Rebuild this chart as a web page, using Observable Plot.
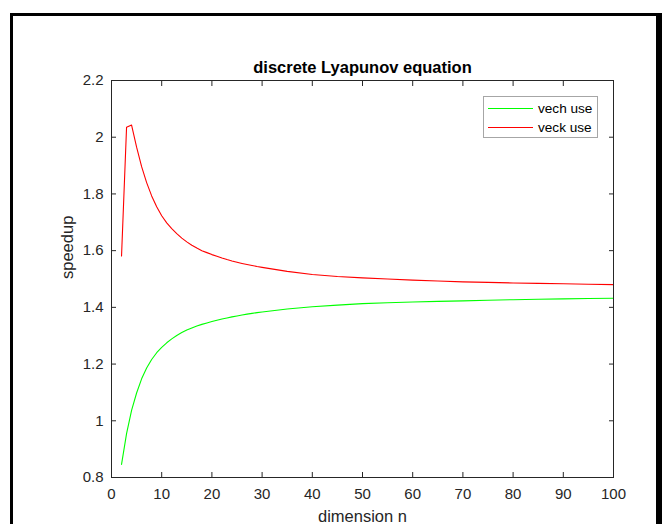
<!DOCTYPE html>
<html>
<head>
<meta charset="utf-8">
<script src="https://cdn.jsdelivr.net/npm/d3@7"></script>
<script src="https://cdn.jsdelivr.net/npm/@observablehq/plot@0.6"></script>
<style>
  html, body { margin: 0; padding: 0; background: #fff; }
  #wrap { position: relative; width: 662px; height: 524px; overflow: hidden; font-family: "Liberation Sans", Arial, sans-serif; }
  #wrap svg { position: absolute; left: 0; top: 0; }
  #border { position: absolute; left: 10px; top: 13px; width: 643px; height: 600px; border: 3px solid #000; border-right-width: 6px; }
  #legend { position: absolute; left: 483px; top: 96px; width: 113px; height: 40px; border: 1px solid #a6a6a6; background: #fff; font-size: 13.6px; color: #000; }
  .row { position: absolute; left: 4px; height: 16px; display: flex; align-items: center; }
  .sw { display: inline-block; width: 45px; height: 1px; margin-right: 5px; }
</style>
</head>
<body>
<div id="wrap">
  <div id="border"></div>
</div>
<script>
// ---- data ----
const dims = [2, 3, 4, 5, 6, 7, 8, 9, 10, 11, 12, 13, 14, 15, 16, 17, 18, 19, 20,
              21, 22, 23, 24, 25, 26, 27, 28, 29, 30,
              35, 40, 45, 50, 55, 60, 65, 70, 75, 80, 85, 90, 95, 100];
const vechUse = [0.846, 0.955, 1.037, 1.098, 1.148, 1.186, 1.216, 1.240, 1.259, 1.275, 1.289, 1.301, 1.311, 1.320, 1.327, 1.334, 1.340, 1.345, 1.350,
                 1.3545, 1.3587, 1.3627, 1.3664, 1.3698, 1.3730, 1.3760, 1.3788, 1.3814, 1.3838,
                 1.394, 1.402, 1.408, 1.413, 1.416, 1.419, 1.421, 1.423, 1.425, 1.427, 1.4285, 1.430, 1.431, 1.432];
const veckUse = [1.581, 2.035, 2.043, 1.965, 1.896, 1.840, 1.793, 1.755, 1.723, 1.698, 1.678, 1.660, 1.644, 1.631, 1.619, 1.609, 1.600, 1.593, 1.586,
                 1.580, 1.574, 1.5685, 1.5635, 1.559, 1.5548, 1.551, 1.5475, 1.544, 1.541,
                 1.527, 1.516, 1.509, 1.504, 1.500, 1.496, 1.493, 1.490, 1.488, 1.486, 1.4845, 1.483, 1.4815, 1.480];
const seriesNames = ["vech use", "veck use"];
const seriesColors = ["#00ff00", "#ff0000"];
const xTicks = [0, 10, 20, 30, 40, 50, 60, 70, 80, 90, 100];
const yTicks = [0.8, 1, 1.2, 1.4, 1.6, 1.8, 2, 2.2];
const titleText = "discrete Lyapunov equation";
const xLabelText = "dimension n";
const yLabelText = "speedup";

const rows = [];
dims.forEach((n, i) => {
  rows.push({n, v: vechUse[i], s: seriesNames[0]});
  rows.push({n, v: veckUse[i], s: seriesNames[1]});
});

const axisColor = "#262626";
const fmt = d => String(+d.toFixed(1));

const chart = Plot.plot({
  width: 662,
  height: 524,
  marginLeft: 111,
  marginRight: 49,
  marginTop: 80,
  marginBottom: 47,
  style: {fontFamily: "'Liberation Sans', Arial, sans-serif", fontSize: "15px", color: axisColor, background: "transparent"},
  x: {domain: [0, 100], axis: null},
  y: {domain: [0.8, 2.2], axis: null},
  color: {domain: seriesNames, range: seriesColors},
  marks: [
    Plot.line(rows, {x: "n", y: "v", z: "s", stroke: "s", strokeWidth: 1.1, curve: "linear"}),
    Plot.axisX({ticks: xTicks, anchor: "bottom", tickSize: -5, tickPadding: 16, label: null, stroke: axisColor, fill: axisColor, fontSize: 15}),
    Plot.axisX({ticks: xTicks, anchor: "top", tickSize: -5, tickFormat: () => "", label: null, stroke: axisColor}),
    Plot.axisY({ticks: yTicks, anchor: "left", tickSize: -5, tickPadding: 13, tickFormat: fmt, label: null, stroke: axisColor, fill: axisColor, fontSize: 15}),
    Plot.axisY({ticks: yTicks, anchor: "right", tickSize: -5, tickFormat: () => "", label: null, stroke: axisColor}),
    Plot.frame({stroke: axisColor, strokeWidth: 1}),
    Plot.text([titleText], {frameAnchor: "top", text: d => d, dy: -8, lineAnchor: "bottom", fontWeight: "bold", fontSize: 16.5, fill: "#000"}),
    Plot.text([xLabelText], {frameAnchor: "bottom", text: d => d, dy: 33, lineAnchor: "top", fontSize: 16.5, fill: axisColor}),
    Plot.text([yLabelText], {frameAnchor: "left", text: d => d, dx: -44, rotate: -90, fontSize: 16.5, fill: axisColor})
  ]
});
const wrap = document.getElementById("wrap");
wrap.insertBefore(chart, wrap.firstChild);

// legend
const legend = document.createElement("div");
legend.id = "legend";
seriesNames.forEach((name, i) => {
  const row = document.createElement("div");
  row.className = "row";
  row.style.top = (i === 0 ? 3 : 22) + "px";
  const sw = document.createElement("span");
  sw.className = "sw";
  sw.style.background = seriesColors[i];
  const t = document.createElement("span");
  t.textContent = name;
  row.appendChild(sw);
  row.appendChild(t);
  legend.appendChild(row);
});
wrap.appendChild(legend);
</script>
</body>
</html>
